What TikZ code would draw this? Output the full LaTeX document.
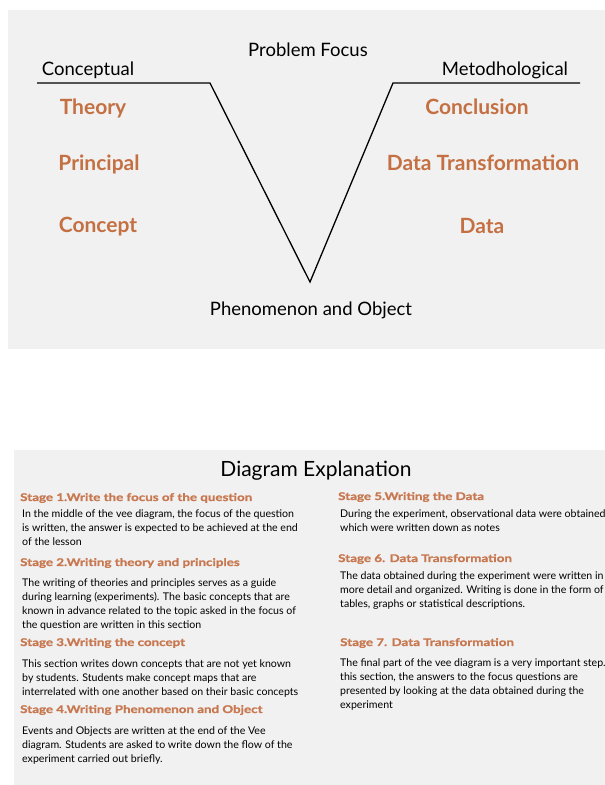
\documentclass[tikz,border=0pt]{standalone}
\usepackage{fontspec}
\setmainfont{Lato}
\newfontfamily\stagefont[FakeStretch=1.26,FakeBold=1.2]{Lato}
\definecolor{panelgray}{RGB}{241,241,241}
\definecolor{rust}{RGB}{196,112,66}
\definecolor{rustlight}{RGB}{200,120,80}
\begin{document}
\begin{tikzpicture}[x=1pt,y=-1pt,
  panel/.style={fill=panelgray},
  vline/.style={line width=1.3pt,black},
  head/.style={font=\fontsize{18.5}{22}\selectfont,text=black,inner sep=0pt},
  vlabel/.style={font=\fontsize{21}{25}\selectfont\bfseries,text=rust,inner sep=0pt},
  title/.style={font=\fontsize{21}{25}\selectfont,text=black,inner sep=0pt},
  stagehead/.style={font=\stagefont\fontsize{10.6}{13}\selectfont\bfseries,text=rustlight,inner sep=0pt,anchor=west},
  body/.style={font=\fontsize{10.6}{14}\selectfont,text=black,inner sep=0pt,align=left,anchor=north west}]
\useasboundingbox (0,0) rectangle (605,785);
\fill[panel] (8,10) rectangle (605,349);
\fill[panel] (14,450) rectangle (605,785);
% Vee
\coordinate (L) at (37,83);
\coordinate (VL) at (210,83);
\coordinate (B) at (310,282);
\coordinate (VR) at (393,83);
\coordinate (R) at (580,83);
\draw[vline] (L) -- (VL) -- (B) -- (VR) -- (R);
\node[head] (pf) at (308,50) {Problem Focus};
\node[head] (conc) at (88,70) {Conceptual};
\node[head] (meth) at (505,70) {Metodhological};
\node[head] (phen) at (311,310) {Phenomenon and Object};
\node[vlabel] (theory) at (93,108) {Theory};
\node[vlabel] (princ) at (99,164) {Principal};
\node[vlabel] (concept) at (98,227) {Concept};
\node[vlabel] (concl) at (477,107) {Conclusion};
\node[vlabel] (dtrans) at (483,163) {Data Transformation};
\node[vlabel] (data) at (482,226) {Data};
% Explanation
\node[title] (expl) at (316,471) {Diagram Explanation};
\node[stagehead] (s1) at (20,498) {Stage 1.Write the focus of the question};
\node[body] (b1) at (22,509) {In the middle of the vee diagram, the focus of the question\\is written, the answer is expected to be achieved at the end\\of the lesson};
\node[stagehead] (s2) at (20,563) {Stage 2.Writing theory and principles};
\node[body] (b2) at (22,578) {The writing of theories and principles serves as a guide\\during learning (experiments). The basic concepts that are\\known in advance related to the topic asked in the focus of\\the question are written in this section};
\node[stagehead] (s3) at (20,643) {Stage 3.Writing the concept};
\node[body] (b3) at (22,659) {This section writes down concepts that are not yet known\\by students. Students make concept maps that are\\interrelated with one another based on their basic concepts};
\node[stagehead] (s4) at (20,710) {Stage 4.Writing Phenomenon and Object};
\node[body] (b4) at (22,726) {Events and Objects are written at the end of the Vee\\diagram. Students are asked to write down the flow of the\\experiment carried out briefly.};
\node[stagehead] (s5) at (338,497) {Stage 5.Writing the Data};
\node[body] (b5) at (340,509) {During the experiment, observational data were obtained\\which were written down as notes};
\node[stagehead] (s6) at (338,559) {Stage 6. Data Transformation};
\node[body] (b6) at (340,571) {The data obtained during the experiment were written in\\more detail and organized. Writing is done in the form of\\tables, graphs or statistical descriptions.};
\node[stagehead] (s7) at (340,643) {Stage 7. Data Transformation};
\node[body] (b7) at (340,658) {The final part of the vee diagram is a very important step.\\this section, the answers to the focus questions are\\presented by looking at the data obtained during the\\experiment};
\end{tikzpicture}
\end{document}
